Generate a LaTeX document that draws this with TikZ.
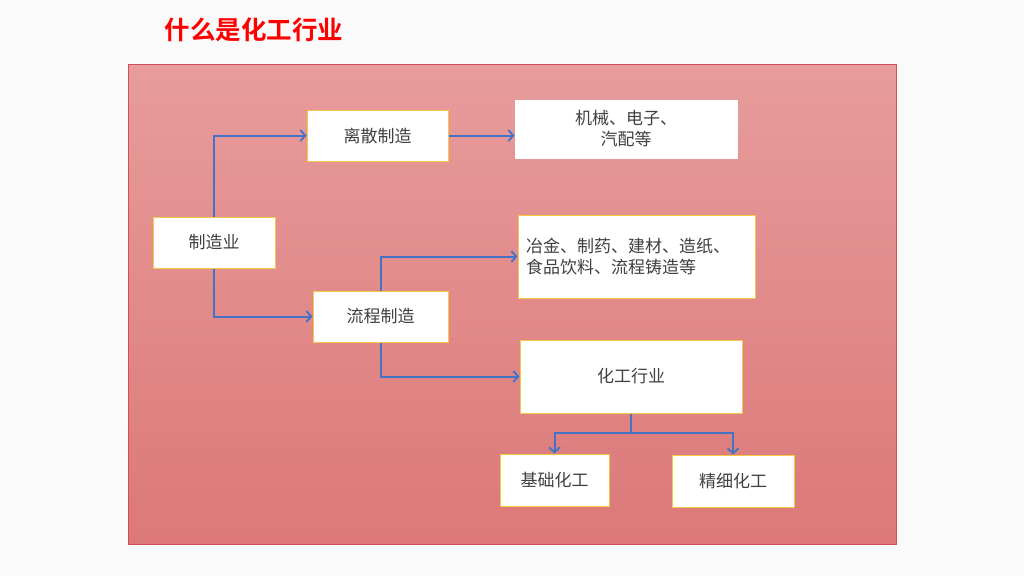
\documentclass[tikz,border=0pt]{standalone}
\usepackage{fontspec}
\setmainfont{Noto Sans CJK SC}
\newfontfamily\cjkb{Noto Sans CJK SC Bold}
\usetikzlibrary{arrows.meta}
\definecolor{bgc}{HTML}{FAFAFA}
\definecolor{ptop}{HTML}{E89C9C}
\definecolor{pbot}{HTML}{DC7878}
\definecolor{pbord}{HTML}{D0505A}
\definecolor{ybord}{HTML}{F5C842}
\definecolor{lblue}{HTML}{4472C4}
\definecolor{txt}{HTML}{404040}
\tikzset{
  box/.style={draw=ybord, line width=1pt, fill=white, inner sep=0pt, text=txt, font=\fontsize{17}{21}\selectfont},
  wbox/.style={draw=white, line width=1pt, fill=white, inner sep=0pt, text=txt, font=\fontsize{17}{21}\selectfont},
  conn/.style={draw=lblue, line width=2pt, -{Straight Barb[length=5pt,width=11pt,line width=1.8pt]}}
}
\begin{document}
\begin{tikzpicture}[x=1pt,y=-1pt]
\useasboundingbox (0,0) rectangle (1024,576);
\fill[bgc] (0,0) rectangle (1024,576);
\shade[top color=ptop, bottom color=pbot, draw=pbord, line width=1pt] (128,64) rectangle (896,544);
\node[text=red, font=\cjkb\fontsize{25.5}{30}\selectfont, anchor=west] (title) at (161,30) {什么是化工行业};

\node[box, minimum width=122pt, minimum height=51pt] (zz) at (214,242.5) {制造业};
\node[box, minimum width=141pt, minimum height=51pt] (ls) at (377.5,135.5) {离散制造};
\node[wbox, minimum width=222pt, minimum height=58pt, align=center] (jx) at (626,129) {机械、电子、\\汽配等};
\node[box, minimum width=135pt, minimum height=51pt] (lc) at (380.5,316.5) {流程制造};
\node[box, minimum width=237pt, minimum height=83pt, align=left, text width=221pt] (yj) at (636.5,256.5) {冶金、制药、建材、造纸、\\食品饮料、流程铸造等};
\node[box, minimum width=222pt, minimum height=73pt] (hg) at (631,376.5) {化工行业};
\node[box, minimum width=109pt, minimum height=52pt] (jc) at (554.5,480) {基础化工};
\node[box, minimum width=122pt, minimum height=52pt] (jx2) at (733,481) {精细化工};

\draw[conn] (zz.north) |- (ls.west);
\draw[conn] (ls.east) -- (ls.east -| jx.west);
\draw[conn] (zz.south) |- (lc.west);
\draw[conn] (lc.north) |- (yj.west);
\draw[conn] (lc.south) |- (hg.west);
\coordinate (hj) at (631,433);
\draw[conn] (hg.south) -- (hj) -| (jc.north);
\draw[conn] (hj) -| (jx2.north);
\end{tikzpicture}
\end{document}
